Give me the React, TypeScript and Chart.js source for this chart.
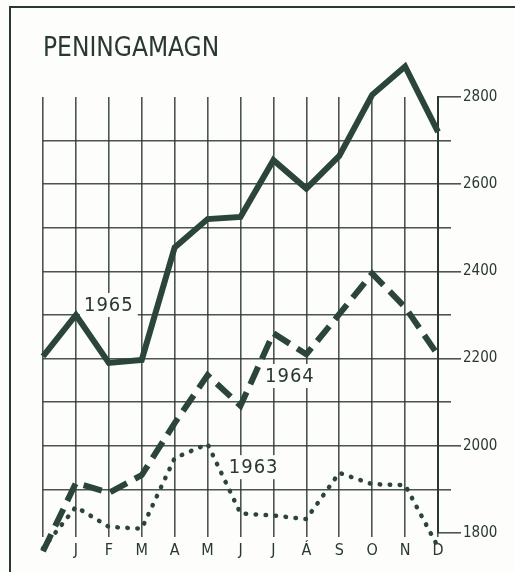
import React, { useEffect, useRef } from 'react';
import { Chart, registerables } from 'chart.js';

Chart.register(...registerables);

// ---- data ----
const chartTitle = 'PENINGAMAGN';
const months = ['', 'J', 'F', 'M', 'A', 'M', 'J', 'J', 'Á', 'S', 'O', 'N', 'D'];
const yTickLabels = [1800, 2000, 2200, 2400, 2600, 2800];
const seriesNames = ['1965', '1964', '1963'];
const values1965 = [2205, 2300, 2190, 2197, 2455, 2520, 2525, 2655, 2590, 2665, 2805, 2870, 2720];
const values1964 = [1758, 1915, 1892, 1933, 2052, 2162, 2092, 2258, 2210, 2302, 2395, 2318, 2208];
const values1963 = [1765, 1860, 1814, 1810, 1972, 2004, 1845, 1840, 1832, 1938, 1912, 1910, 1768];
// where each series name sits: [category index, value]
const nameAnchorX = [2, 7.5, 6.4];
const nameAnchorY = [2323, 2160, 1951];

// ---- style ----
const FONT = "'DejaVu Sans Condensed', 'Liberation Sans Narrow', 'DejaVu Sans', sans-serif";
const INK = '#2a3832';
const LINE = '#2b4639';
const GRID = 'rgba(45,55,50,0.85)';

const decorPlugin = {
  id: 'decor',
  beforeDraw(chart: any) {
    const { ctx, width, height } = chart;
    ctx.save();
    ctx.fillStyle = '#fdfdfb';
    ctx.fillRect(0, 0, width, height);
    ctx.strokeStyle = INK;
    ctx.lineWidth = 2;
    ctx.strokeRect(10, 7, width + 20, height + 20);
    ctx.restore();
  },
  beforeDatasetsDraw(chart: any) {
    const { ctx } = chart;
    const xs = chart.scales.x;
    const ys = chart.scales.y;
    ctx.save();
    ctx.font = `20px ${FONT}`;
    (ctx as any).letterSpacing = '1px';
    ctx.textAlign = 'center';
    ctx.textBaseline = 'middle';
    seriesNames.forEach((name, i) => {
      const px = xs.getPixelForValue(nameAnchorX[i]);
      const py = ys.getPixelForValue(nameAnchorY[i]);
      const w = ctx.measureText(name).width + 8;
      ctx.fillStyle = '#fdfdfb';
      ctx.fillRect(px - w / 2, py - 12, w, 24);
      ctx.fillStyle = INK;
      ctx.fillText(name, px, py + 1);
    });
    ctx.restore();
  },
};

export default function App() {
  const ref = useRef<HTMLCanvasElement | null>(null);

  useEffect(() => {
    if (!ref.current) return;
    const chart = new Chart(ref.current, {
      type: 'line',
      data: {
        labels: months,
        datasets: [
          {
            label: seriesNames[0],
            data: values1965,
            borderColor: LINE,
            borderWidth: 6,
            borderJoinStyle: 'miter',
            pointRadius: 0,
            tension: 0,
            clip: false as any,
          },
          {
            label: seriesNames[1],
            data: values1964,
            borderColor: LINE,
            borderWidth: 6,
            borderDash: [19, 9],
            borderJoinStyle: 'miter',
            pointRadius: 0,
            tension: 0,
            clip: false as any,
          },
          {
            label: seriesNames[2],
            data: values1963,
            borderColor: LINE,
            borderWidth: 4.5,
            borderDash: [0.5, 9.5],
            borderCapStyle: 'round',
            pointRadius: 0,
            tension: 0,
            clip: false as any,
          },
        ],
      },
      options: {
        responsive: false,
        animation: false,
        layout: { padding: { left: 43, right: 0, top: 0, bottom: 0 } },
        plugins: {
          legend: { display: false },
          tooltip: { enabled: false },
          title: {
            display: true,
            text: chartTitle,
            align: 'start',
            color: INK,
            font: { family: FONT, size: 26, weight: 'normal', lineHeight: 1.2 },
            padding: { top: 34, bottom: 31.8 },
          },
        },
        scales: {
          x: {
            type: 'category',
            offset: false,
            afterFit: (s: any) => { s.height = 39; },
            border: { display: false },
            grid: {
              color: GRID,
              lineWidth: 1.6,
              drawTicks: true,
              tickLength: 4,
              tickColor: GRID,
            },
            ticks: {
              color: INK,
              font: { family: FONT, size: 16 },
              padding: 4,
              maxRotation: 0,
              autoSkip: false,
            },
          },
          y: {
            position: 'right',
            min: 1800,
            max: 2800,
            afterFit: (s: any) => { s.width = 77; },
            border: { display: true, color: INK, width: 2 },
            grid: {
              color: (c: any) => (c.tick && (c.tick.value === 1800 || c.tick.value === 2800) ? 'rgba(0,0,0,0)' : GRID),
              lineWidth: 1.6,
              drawTicks: true,
              tickLength: 23,
              tickColor: GRID,
              tickWidth: 1.6,
              tickBorderDash: (c: any) => (c.tick && yTickLabels.includes(c.tick.value) ? [] : [12, 60]),
            },
            ticks: {
              stepSize: 100,
              color: INK,
              font: { family: FONT, size: 15 },
              padding: 2,
              callback: (v: any) => (yTickLabels.includes(Number(v)) ? String(v) : ''),
            },
          },
        },
      },
      plugins: [decorPlugin],
    } as any);
    return () => chart.destroy();
  }, []);

  return (
    <div style={{ position: 'absolute', left: 0, top: 0, width: 515, height: 572 }}>
      <canvas ref={ref} width={515} height={572} style={{ display: 'block' }} />
    </div>
  );
}
